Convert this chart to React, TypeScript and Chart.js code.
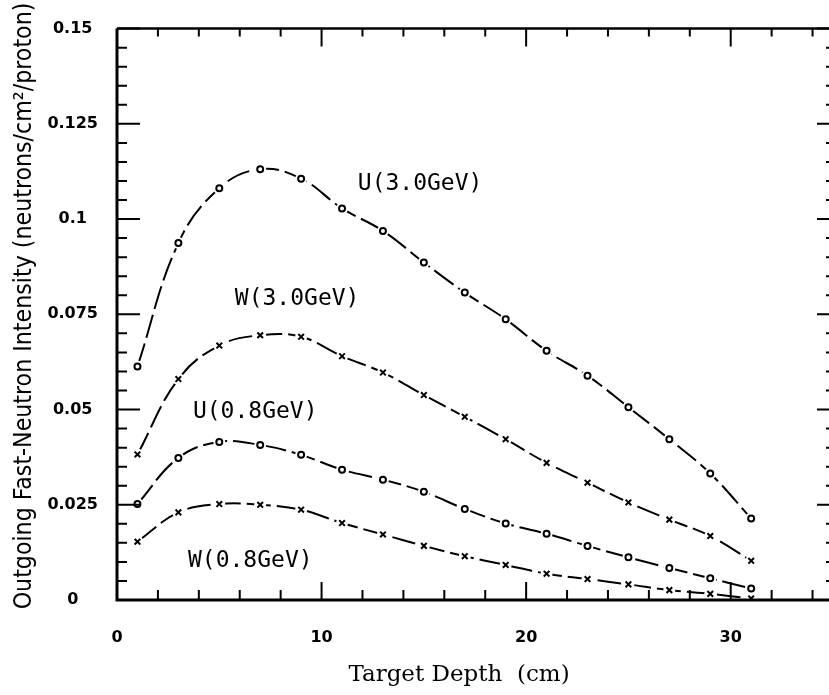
import React, { useEffect, useRef } from "react";
import { Chart, registerables } from "chart.js";

Chart.register(...registerables);

// ---- data ----
const DEPTH_CM = [1, 3, 5, 7, 9, 11, 13, 15, 17, 19, 21, 23, 25, 27, 29, 31];
const U_3GEV = [0.0613, 0.0937, 0.1081, 0.1131, 0.1106, 0.1028, 0.0969, 0.0886, 0.0807, 0.0737, 0.0654, 0.0589, 0.0506, 0.0422, 0.0332, 0.0214];
const W_3GEV = [0.0382, 0.058, 0.0668, 0.0695, 0.0691, 0.064, 0.0597, 0.0538, 0.0481, 0.0422, 0.036, 0.0308, 0.0256, 0.0211, 0.0168, 0.0103];
const U_08GEV = [0.0252, 0.0373, 0.0415, 0.0407, 0.0381, 0.0342, 0.0316, 0.0284, 0.0239, 0.0201, 0.0174, 0.0142, 0.0112, 0.0084, 0.0057, 0.003];
const W_08GEV = [0.0153, 0.023, 0.0252, 0.025, 0.0237, 0.0202, 0.0172, 0.0142, 0.0115, 0.0092, 0.0069, 0.0055, 0.0041, 0.0026, 0.0016, 0.0004];

const SERIES_NAMES = ["U(3.0GeV)", "W(3.0GeV)", "U(0.8GeV)", "W(0.8GeV)"];
const SERIES_VALUES = [U_3GEV, W_3GEV, U_08GEV, W_08GEV];
const SERIES_MARKERS = ["circle", "crossRot", "circle", "crossRot"];
// label anchors in data space (left edge, vertical middle)
const LABEL_X = [11.77, 5.76, 3.71, 3.47];
const LABEL_Y = [0.1091, 0.079, 0.0494, 0.0103];

const X_TICKS = [0, 10, 20, 30];
const X_TICK_LABELS = ["0", "10", "20", "30"];
const Y_TICKS = [0, 0.025, 0.05, 0.075, 0.1, 0.125, 0.15];
const Y_TICK_LABELS = ["0", "0.025", "0.05", "0.075", "0.1", "0.125", "0.15"];
const X_MIN = 0;
const X_MAX = 35;
const Y_MIN = 0;
const Y_MAX = 0.15;
const X_MINOR_STEP = 2;
const Y_MINOR_STEP = 0.005;

const X_TITLE = "Target Depth  (cm)";
const Y_TITLE = "Outgoing Fast-Neutron Intensity (neutrons/cm\u00B2/proton)";

const framePlugin = {
  id: "framePlugin",
  afterDraw(chart: any) {
    const { ctx, chartArea } = chart;
    const xs = chart.scales.x;
    const ys = chart.scales.y;
    const { left, right, top, bottom } = chartArea;
    ctx.save();
    ctx.strokeStyle = "#000";
    ctx.lineCap = "butt";

    // frame
    ctx.lineWidth = 3;
    ctx.beginPath();
    ctx.moveTo(left, top);
    ctx.lineTo(left, bottom);
    ctx.lineTo(right, bottom);
    ctx.stroke();
    ctx.lineWidth = 2.5;
    ctx.beginPath();
    ctx.moveTo(left, top);
    ctx.lineTo(right, top);
    ctx.lineTo(right, bottom);
    ctx.stroke();

    // inward ticks
    ctx.lineWidth = 2;
    const isMajorX = (v: number) => X_TICKS.some((t) => Math.abs(t - v) < 1e-9);
    const isMajorY = (v: number) => Y_TICKS.some((t) => Math.abs(t - v) < 1e-9);
    ctx.beginPath();
    for (let v = X_MIN; v <= X_MAX + 1e-9; v += X_MINOR_STEP) {
      const px = xs.getPixelForValue(v);
      const major = isMajorX(v);
      ctx.moveTo(px, bottom);
      ctx.lineTo(px, bottom - (major ? 18 : 10));
      ctx.moveTo(px, top);
      ctx.lineTo(px, top + (major ? 18 : 8));
    }
    for (let i = 0; i * Y_MINOR_STEP <= Y_MAX + 1e-9; i++) {
      const v = i * Y_MINOR_STEP;
      const py = ys.getPixelForValue(v);
      const major = isMajorY(Math.round(v * 1000) / 1000);
      ctx.moveTo(left, py);
      ctx.lineTo(left + (major ? 23 : 10), py);
      ctx.moveTo(right, py);
      ctx.lineTo(right - (major ? 16 : 7), py);
    }
    ctx.stroke();

    // series labels
    ctx.fillStyle = "#000";
    ctx.font = "23px 'DejaVu Sans Mono'";
    ctx.textAlign = "left";
    ctx.textBaseline = "middle";
    SERIES_NAMES.forEach((name, i) => {
      ctx.fillText(name, xs.getPixelForValue(LABEL_X[i]), ys.getPixelForValue(LABEL_Y[i]));
    });

    // x title
    ctx.font = "23px 'DejaVu Serif'";
    ctx.textAlign = "center";
    ctx.textBaseline = "alphabetic";
    ctx.fillText(X_TITLE, 459, 681);

    // y title (fit to the frame height)
    ctx.font = "20px 'DejaVu Sans Condensed', 'DejaVu Sans'";
    const w = ctx.measureText(Y_TITLE).width;
    const size = (20 * 607) / w;
    ctx.font = `${size.toFixed(2)}px 'DejaVu Sans Condensed', 'DejaVu Sans'`;
    ctx.translate(25, 306);
    ctx.rotate(-Math.PI / 2);
    ctx.textAlign = "center";
    ctx.textBaseline = "middle";
    ctx.fillText(Y_TITLE, 0, 0);
    ctx.restore();
  },
};

export default function App() {
  const ref = useRef<HTMLCanvasElement | null>(null);

  useEffect(() => {
    document.body.style.margin = "0";
    const canvas = ref.current!;
    const datasets: any[] = [];
    SERIES_VALUES.forEach((vals, i) => {
      const pts = DEPTH_CM.map((x, j) => ({ x, y: vals[j] }));
      // smooth dashed curve with white halos around the points
      datasets.push({
        label: SERIES_NAMES[i] + " line",
        data: pts,
        showLine: true,
        borderColor: "#000",
        borderWidth: 2,
        borderDash: [24, 6],
        tension: 0.4,
        fill: false,
        pointRadius: 6,
        pointStyle: "circle",
        pointBackgroundColor: "#fff",
        pointBorderWidth: 0,
        pointBorderColor: "rgba(0,0,0,0)",
        order: 2,
      });
      // markers
      datasets.push({
        label: SERIES_NAMES[i],
        data: pts,
        showLine: false,
        pointStyle: SERIES_MARKERS[i],
        pointRadius: SERIES_MARKERS[i] === "circle" ? 3 : 4,
        pointBorderWidth: 2,
        pointBorderColor: "#000",
        pointBackgroundColor: "#fff",
        order: 1,
      });
    });

    const tickFont = { family: "'DejaVu Sans'", weight: "bold" as const, size: 16 };

    const chart = new Chart(canvas, {
      type: "scatter",
      data: { datasets },
      options: {
        responsive: false,
        animation: false,
        events: [],
        layout: { padding: { left: 0, right: 7, top: 17, bottom: 0 } },
        plugins: {
          legend: { display: false },
          tooltip: { enabled: false },
          title: { display: false },
        },
        scales: {
          x: {
            type: "linear",
            min: X_MIN,
            max: X_MAX,
            grid: { display: false, drawTicks: false },
            border: { display: false },
            afterBuildTicks: (s: any) => {
              s.ticks = X_TICKS.map((v) => ({ value: v }));
            },
            afterFit: (s: any) => {
              s.height = 95;
            },
            ticks: {
              color: "#000",
              font: tickFont,
              padding: 28,
              maxRotation: 0,
              autoSkip: false,
              callback: (v: any, idx: number) => X_TICK_LABELS[idx],
            },
          },
          y: {
            type: "linear",
            min: Y_MIN,
            max: Y_MAX,
            grid: { display: false, drawTicks: false },
            border: { display: false },
            afterBuildTicks: (s: any) => {
              s.ticks = Y_TICKS.map((v) => ({ value: v }));
            },
            afterFit: (s: any) => {
              s.width = 117;
            },
            ticks: {
              color: "#000",
              font: tickFont,
              padding: 19,
              crossAlign: "center",
              autoSkip: false,
              callback: (v: any, idx: number) => Y_TICK_LABELS[idx],
            },
          },
        },
      },
      plugins: [framePlugin],
    });
    return () => chart.destroy();
  }, []);

  return (
    <div style={{ position: "fixed", left: 0, top: 0, width: 829, height: 695, overflow: "hidden", background: "#fff" }}>
      <canvas ref={ref} width={840} height={695} style={{ display: "block", width: 840, height: 695 }} />
    </div>
  );
}
